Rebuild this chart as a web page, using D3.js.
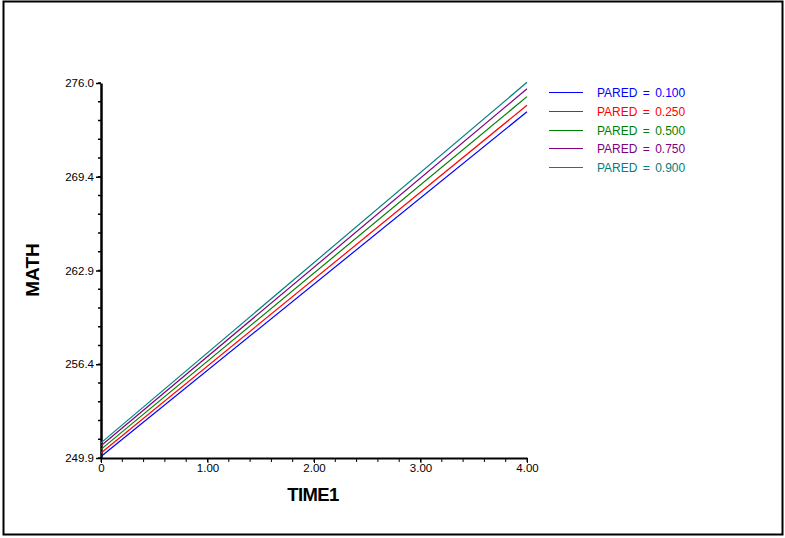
<!DOCTYPE html>
<html>
<head>
<meta charset="utf-8">
<script src="https://cdn.jsdelivr.net/npm/d3@7"></script>
<style>
  html, body { margin: 0; padding: 0; background: #fff; }
  svg { display: block; font-family: "Liberation Sans", Arial, sans-serif; }
</style>
</head>
<body>
<svg id="chart" width="785" height="538"></svg>
<script>
// Predicted MATH score over TIME1 for several PARED levels
const times = [0, 4];
const paredLevels = ["0.100", "0.250", "0.500", "0.750", "0.900"];
const mathPared010 = [250.0, 274.0];
const mathPared025 = [250.25, 274.45];
const mathPared050 = [250.5, 275.05];
const mathPared075 = [250.75, 275.6];
const mathPared090 = [250.95, 276.05];
const seriesColors = ["#0000ff", "#ff0000", "#008000", "#800080", "#008080"];
const xTicks = [0, 1, 2, 3, 4];
const xTickLabels = ["0", "1.00", "2.00", "3.00", "4.00"];
const yTicks = [249.9, 256.425, 262.95, 269.475, 276.0];
const yTickLabels = ["249.9", "256.4", "262.9", "269.4", "276.0"];

const series = [mathPared010, mathPared025, mathPared050, mathPared075, mathPared090]
  .map((vals, i) => ({
    label: "PARED = " + paredLevels[i],
    color: seriesColors[i],
    points: times.map((t, j) => [t, vals[j]])
  }));

const svg = d3.select("#chart");

// outer frame
svg.append("rect")
  .attr("x", 3.5).attr("y", 1.5)
  .attr("width", 779).attr("height", 533)
  .attr("fill", "none").attr("stroke", "#000").attr("stroke-width", 2);

const x = d3.scaleLinear().domain([0, 4]).range([101, 527]);
const y = d3.scaleLinear().domain([249.9, 276.0]).range([458, 83]);

// minor ticks
const xMinor = d3.range(0, 4.0001, 0.2);
const yStep = (276.0 - 249.9) / 20;
const yMinor = d3.range(0, 21).map(i => 249.9 + i * yStep);

const gx = svg.append("g").attr("transform", `translate(0,${y(249.9)})`);
gx.selectAll("line.minor").data(xMinor).enter().append("line")
  .attr("x1", d => x(d)).attr("x2", d => x(d))
  .attr("y1", 0).attr("y2", 4)
  .attr("stroke", "#000").attr("stroke-width", 1);
gx.call(d3.axisBottom(x).tickValues(xTicks)
    .tickFormat((d, i) => xTickLabels[i]).tickSize(5).tickSizeOuter(0))
  .call(g => g.select(".domain").attr("stroke-width", 2))
  .call(g => g.selectAll(".tick line").attr("stroke-width", 1))
  .call(g => g.selectAll(".tick text")
    .attr("font-family", "Liberation Sans, Arial, sans-serif")
    .attr("font-size", 11.5).attr("fill", "#000").attr("dy", "0.55em"));

const gy = svg.append("g").attr("transform", `translate(${x(0)},0)`);
gy.selectAll("line.minor").data(yMinor).enter().append("line")
  .attr("x1", -3).attr("x2", 0)
  .attr("y1", d => y(d)).attr("y2", d => y(d))
  .attr("stroke", "#000").attr("stroke-width", 1.5);
gy.call(d3.axisLeft(y).tickValues(yTicks)
    .tickFormat((d, i) => yTickLabels[i]).tickSize(5).tickSizeOuter(0))
  .call(g => g.select(".domain").attr("stroke-width", 2.5))
  .call(g => g.selectAll(".tick line").attr("stroke-width", 1.5))
  .call(g => g.selectAll(".tick text")
    .attr("font-family", "Liberation Sans, Arial, sans-serif")
    .attr("font-size", 11.5).attr("fill", "#000").attr("x", -7));

// series lines
const line = d3.line().x(d => x(d[0])).y(d => y(d[1]));
svg.append("g").selectAll("path").data(series).enter().append("path")
  .attr("d", d => line(d.points))
  .attr("fill", "none")
  .attr("stroke", d => d.color)
  .attr("stroke-width", 1.2);

// axis titles
svg.append("text")
  .attr("x", 313).attr("y", 501)
  .attr("text-anchor", "middle")
  .attr("font-size", 18.5).attr("font-weight", "bold")
  .attr("letter-spacing", -0.6)
  .text("TIME1");

svg.append("text")
  .attr("transform", "translate(39,270) rotate(-90)")
  .attr("text-anchor", "middle")
  .attr("font-size", 19).attr("font-weight", "bold")
  .text("MATH");

// legend
const legend = svg.append("g").selectAll("g").data(series).enter().append("g")
  .attr("transform", (d, i) => `translate(549,${Math.round(92 + i * 18.8) + 0.5})`);
legend.append("line")
  .attr("x1", 0).attr("x2", 34).attr("y1", 0).attr("y2", 0)
  .attr("stroke", d => d.color).attr("stroke-width", 1);
legend.append("text")
  .attr("x", 48).attr("y", 0).attr("dy", "0.35em")
  .attr("font-size", 12)
  .attr("word-spacing", 2)
  .attr("fill", d => d.color)
  .text(d => d.label);
</script>
</body>
</html>
